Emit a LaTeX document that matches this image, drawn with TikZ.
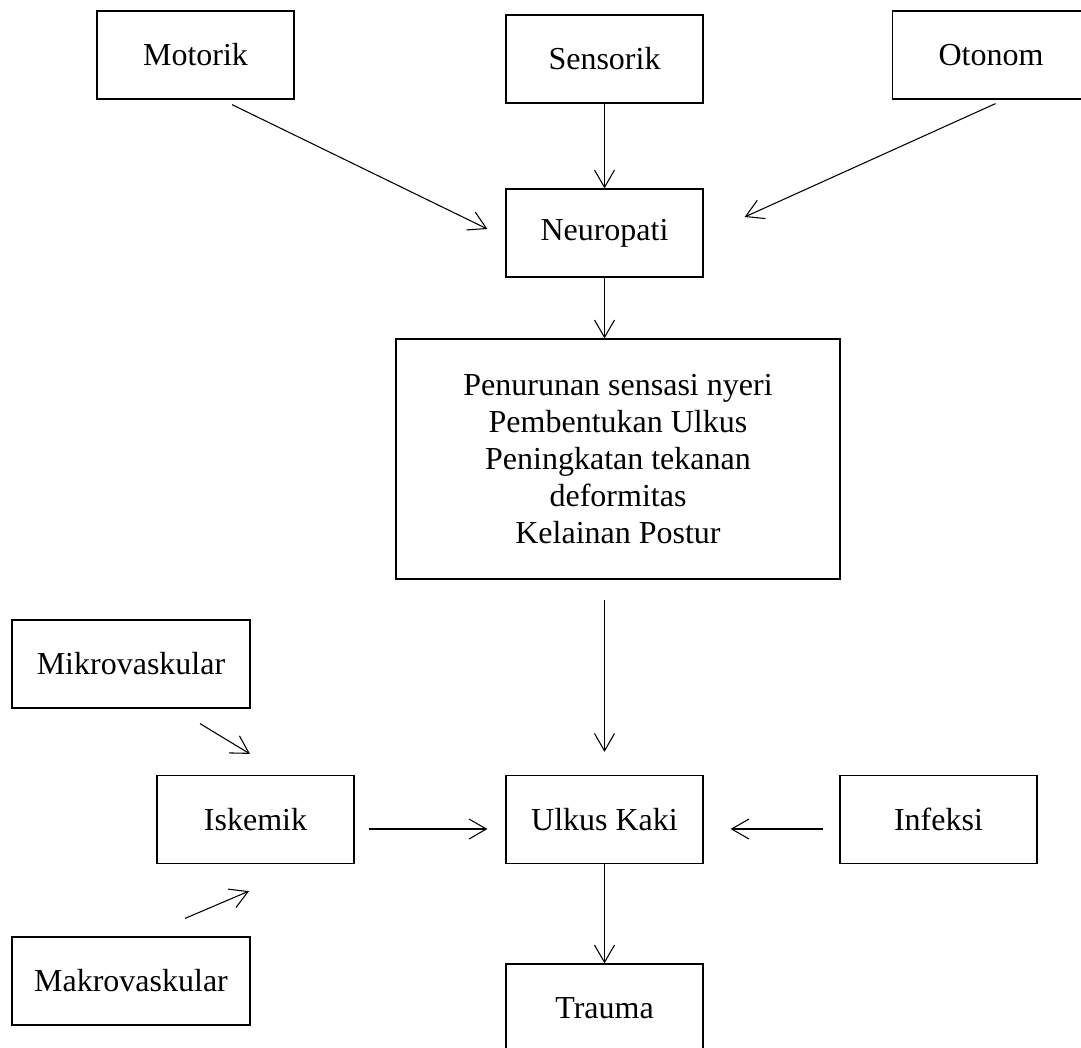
\documentclass[tikz,border=0pt]{standalone}
\usepackage{fontspec}
\setmainfont{Liberation Serif}
\usepackage{tikz}
\usetikzlibrary{arrows.meta,calc}
\tikzstyle{bx}=[rectangle,draw=black,line width=0.9pt,inner sep=3pt,
  minimum width=147.75pt,minimum height=66pt,font=\fontsize{24}{27.75}\selectfont]
\tikzstyle{wbx}=[bx,minimum width=178.5pt]
\tikzstyle{tbx}=[bx,align=center,minimum width=333pt,minimum height=180pt]
\tikzstyle{arr}=[-{Straight Barb[length=13pt,width=15pt]},line width=0.8pt]

\begin{document}
\begin{tikzpicture}[x=0.75pt,y=-0.75pt]
    \clip (0,0) rectangle (1081,1047);
    \node [style=bx] (mot) at (195.5,55) {Motorik};
    \node [style=bx] (sen) at (604.5,59) {Sensorik};
    \node [style=bx] (oto) at (991,55) {Otonom};
    \node [style=bx] (neu) at (604.5,233) {Neuropati};
    \node [style=tbx] (gej) at (618,459) {Penurunan sensasi nyeri\\Pembentukan Ulkus\\Peningkatan tekanan\\deformitas\\Kelainan Postur};
    \node [style=wbx] (mik) at (131,664) {Mikrovaskular};
    \node [style=bx] (isk) at (255.5,819.5) {Iskemik};
    \node [style=bx] (ulk) at (604.5,819.5) {Ulkus Kaki};
    \node [style=bx] (inf) at (938.5,819.5) {Infeksi};
    \node [style=wbx] (mak) at (131,981) {Makrovaskular};
    \node [style=bx] (tra) at (604.5,1008) {Trauma};
    \draw [style=arr] ($(mot.south)+(36.5,5)$) to ($(neu.west)+(-18,-4)$);
    \draw [style=arr] (sen) to (neu);
    \draw [style=arr] ($(oto.south)+(4.5,4)$) to ($(neu.east)+(41,-16)$);
    \draw [style=arr] (neu.south) to (neu.south |- gej.north);
    \draw [style=arr] ($(ulk.north |- gej.south)+(0,20)$) to ($(ulk.north)+(0,-23)$);
    \draw [style=arr] ($(mik.south)+(69,15)$) to ($(isk.north)+(-5.5,-21)$);
    \draw [style=arr] ($(mak.north)+(54,-18)$) to ($(isk.south)+(-6.5,27)$);
    \draw [style=arr] ($(isk.east)+(14,9.5)$) to ($(ulk.west)+(-18,9.5)$);
    \draw [style=arr] ($(inf.west)+(-16,9.5)$) to ($(ulk.east)+(27,9.5)$);
    \draw [style=arr] (ulk) to (tra);
\end{tikzpicture}
\end{document}
